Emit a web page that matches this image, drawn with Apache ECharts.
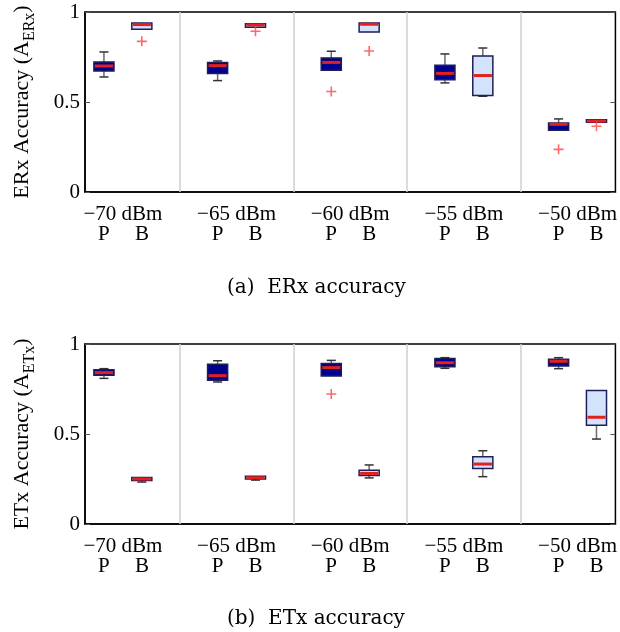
<!DOCTYPE html>
<html>
<head>
<meta charset="utf-8">
<script src="https://cdn.jsdelivr.net/npm/echarts@6/dist/echarts.min.js"></script>
<style>
  html, body { margin: 0; padding: 0; background: #fff; }
  #chart { width: 620px; height: 632px; }
</style>
</head>
<body>
<div id="chart"></div>
<script>
const groups = ['\u221270 dBm', '\u221265 dBm', '\u221260 dBm', '\u221255 dBm', '\u221250 dBm'];
const pPos = [1, 4, 7, 10, 13];
const bPos = [2, 5, 8, 11, 14];
const separators = [3, 6, 9, 12];

// [lower whisker, q1, median, q3, upper whisker]
const erxP = [
  [0.639, 0.672, 0.700, 0.722, 0.778],
  [0.619, 0.658, 0.702, 0.719, 0.728],
  [0.676, 0.676, 0.720, 0.745, 0.782],
  [0.606, 0.624, 0.659, 0.704, 0.767],
  [0.343, 0.343, 0.376, 0.383, 0.406]
];
const erxB = [
  [0.904, 0.904, 0.930, 0.939, 0.939],
  [0.915, 0.915, 0.928, 0.935, 0.935],
  [0.889, 0.889, 0.932, 0.939, 0.939],
  [0.532, 0.536, 0.647, 0.756, 0.800],
  [0.387, 0.387, 0.394, 0.402, 0.402]
];
const erxOutliers = [[2, 0.837], [5, 0.893], [7, 0.558], [8, 0.783], [13, 0.237], [14, 0.365]];

const etxP = [
  [0.809, 0.826, 0.841, 0.857, 0.863],
  [0.789, 0.798, 0.824, 0.887, 0.907],
  [0.822, 0.822, 0.869, 0.891, 0.909],
  [0.865, 0.874, 0.896, 0.919, 0.924],
  [0.863, 0.878, 0.904, 0.915, 0.924]
];
const etxB = [
  [0.233, 0.241, 0.250, 0.259, 0.259],
  [0.244, 0.250, 0.257, 0.265, 0.265],
  [0.256, 0.270, 0.281, 0.298, 0.328],
  [0.263, 0.309, 0.333, 0.374, 0.407],
  [0.472, 0.548, 0.593, 0.741, 0.741]
];
const etxOutliers = [[7, 0.722]];

const yTicks = [0, 0.5, 1];
const groupCenters = pPos.map((p, i) => (p + bPos[i]) / 2);

const SERIF = '"Liberation Serif", "Times New Roman", serif';
const BOX_WIDTH = 0.53;
const P_FILL = '#00008e';
const B_FILL = '#d3e3fc';

function renderBox(fill) {
  return function (params, api) {
    const x = api.value(0);
    const lo = api.value(1), q1 = api.value(2), med = api.value(3), q3 = api.value(4), hi = api.value(5);
    const half = api.size([BOX_WIDTH, 0])[0] / 2;
    const cap = half * 0.45;
    const px = api.coord([x, 0])[0];
    const y = v => api.coord([x, v])[1];
    const stem = { stroke: '#6b6b6b', lineWidth: 1.5 };
    const capStyle = { stroke: '#333', lineWidth: 1.5 };
    const children = [];
    if (hi > q3) {
      children.push({ type: 'line', shape: { x1: px, y1: y(q3), x2: px, y2: y(hi) }, style: stem });
      children.push({ type: 'line', shape: { x1: px - cap, y1: y(hi), x2: px + cap, y2: y(hi) }, style: capStyle });
    }
    if (lo < q1) {
      children.push({ type: 'line', shape: { x1: px, y1: y(q1), x2: px, y2: y(lo) }, style: stem });
      children.push({ type: 'line', shape: { x1: px - cap, y1: y(lo), x2: px + cap, y2: y(lo) }, style: capStyle });
    }
    children.push({
      type: 'rect',
      shape: { x: px - half, y: y(q3), width: half * 2, height: Math.max(y(q1) - y(q3), 1) },
      style: { fill: fill, stroke: '#1e1e5a', lineWidth: 1.5 }
    });
    children.push({
      type: 'line',
      shape: { x1: px - half + 1, y1: y(med), x2: px + half - 1, y2: y(med) },
      style: { stroke: '#e3201b', lineWidth: 3 }
    });
    return { type: 'group', children: children };
  };
}

function boxData(pos, stats) {
  return pos.map((x, i) => [x].concat(stats[i]));
}

function xAxisFor(gridIndex) {
  return {
    type: 'value',
    gridIndex: gridIndex,
    min: 0.5,
    max: 14.5,
    axisLine: { show: true, onZero: false, lineStyle: { color: '#000', width: 1.5 } },
    axisTick: { show: false },
    splitLine: { show: false },
    axisLabel: {
      customValues: groupCenters,
      formatter: function (v) {
        const i = groupCenters.indexOf(v);
        return groups[i] + '\n{pb|P}{pb|B}';
      },
      fontFamily: SERIF,
      fontSize: 21,
      color: '#000',
      lineHeight: 20,
      margin: 12,
      rich: {
        pb: { width: 38, align: 'center', fontFamily: SERIF, fontSize: 21, color: '#000', lineHeight: 20 }
      }
    }
  };
}

function yAxesFor(gridIndex, sub) {
  return [
    {
      type: 'value',
      gridIndex: gridIndex,
      min: yTicks[0],
      max: yTicks[yTicks.length - 1],
      interval: yTicks[1] - yTicks[0],
      axisLine: { show: true, lineStyle: { color: '#000', width: 1.5 } },
      axisTick: { show: true, inside: true, length: 5, lineStyle: { color: '#555' } },
      splitLine: { show: false },
      axisLabel: { fontFamily: SERIF, fontSize: 21, color: '#000', margin: 5 },
      name: '{m|' + sub + ' Accuracy (A}{s|' + sub + '}{m|)}',
      nameLocation: 'middle',
      nameRotate: 90,
      nameGap: 47,
      nameTextStyle: {
        rich: {
          m: { fontFamily: SERIF, fontSize: 22, color: '#000', lineHeight: 32, verticalAlign: 'middle' },
          s: { fontFamily: SERIF, fontSize: 16, color: '#000', lineHeight: 32, verticalAlign: 'bottom' }
        }
      }
    },
    {
      type: 'value',
      gridIndex: gridIndex,
      position: 'right',
      min: yTicks[0],
      max: yTicks[yTicks.length - 1],
      interval: yTicks[1] - yTicks[0],
      axisLine: { show: false },
      axisTick: { show: true, inside: true, length: 5, lineStyle: { color: '#555' } },
      axisLabel: { show: false },
      splitLine: { show: false }
    }
  ];
}

function seriesFor(idx, pStats, bStats, outliers) {
  return [
    {
      type: 'custom',
      xAxisIndex: idx,
      yAxisIndex: idx * 2,
      renderItem: renderBox(P_FILL),
      encode: { x: 0, y: [1, 2, 3, 4, 5] },
      data: boxData(pPos, pStats),
      z: 3
    },
    {
      type: 'custom',
      xAxisIndex: idx,
      yAxisIndex: idx * 2,
      renderItem: renderBox(B_FILL),
      encode: { x: 0, y: [1, 2, 3, 4, 5] },
      data: boxData(bPos, bStats),
      z: 3
    },
    {
      type: 'scatter',
      xAxisIndex: idx,
      yAxisIndex: idx * 2,
      symbol: 'path://M4.2,0H5.8V4.2H10V5.8H5.8V10H4.2V5.8H0V4.2H4.2Z',
      symbolSize: 10,
      itemStyle: { color: '#ff4343' },
      data: outliers,
      z: 4,
      markLine: {
        silent: true,
        symbol: ['none', 'none'],
        label: { show: false },
        lineStyle: { color: '#cfcfcf', width: 1.5, type: 'solid' },
        data: separators.map(v => ({ xAxis: v }))
      }
    }
  ];
}

const chart = echarts.init(document.getElementById('chart'), null, { renderer: 'canvas' });

const captionStyle = { fontFamily: '"DejaVu Serif", serif', fontSize: 20, fontWeight: 'normal', color: '#000' };

chart.setOption({
  animation: false,
  backgroundColor: '#fff',
  title: [
    { text: '(a)  ERx accuracy', left: 222, top: 273, textStyle: captionStyle },
    { text: '(b)  ETx accuracy', left: 222, top: 604, textStyle: captionStyle }
  ],
  grid: [
    { left: 85, right: 4, top: 12, height: 180, show: true, borderColor: '#000', borderWidth: 1.5 },
    { left: 85, right: 4, top: 344, height: 180, show: true, borderColor: '#000', borderWidth: 1.5 }
  ],
  xAxis: [xAxisFor(0), xAxisFor(1)],
  yAxis: yAxesFor(0, 'ERx').concat(yAxesFor(1, 'ETx')),
  series: seriesFor(0, erxP, erxB, erxOutliers).concat(seriesFor(1, etxP, etxB, etxOutliers))
});
</script>
</body>
</html>
